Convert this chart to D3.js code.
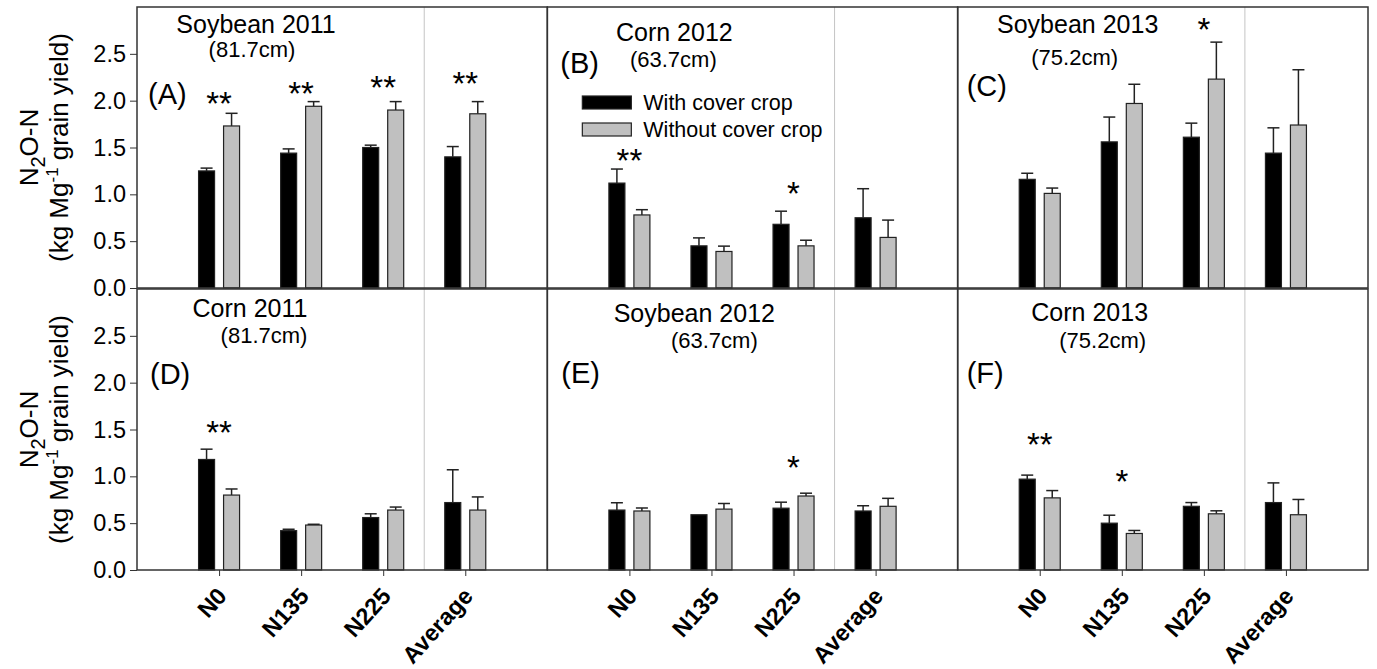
<!DOCTYPE html>
<html>
<head>
<meta charset="utf-8">
<script src="https://cdn.jsdelivr.net/npm/d3@7"></script>
<style>
  body { margin: 0; background: #fff; }
  text { font-family: "Liberation Sans", Arial, sans-serif; fill: #000; }
</style>
</head>
<body>
<div id="chart"></div>
<script>
// Data
var categories = ["N0", "N135", "N225", "Average"];
var panelLetters = ["(A)", "(B)", "(C)", "(D)", "(E)", "(F)"];
var panelTitles = ["Soybean 2011", "Corn 2012", "Soybean 2013", "Corn 2011", "Soybean 2012", "Corn 2013"];
var panelRain = ["(81.7cm)", "(63.7cm)", "(75.2cm)", "(81.7cm)", "(63.7cm)", "(75.2cm)"];
var seriesNames = ["With cover crop", "Without cover crop"];
var yTicks = [0, 0.5, 1.0, 1.5, 2.0, 2.5];

var withCover = [
  [1.25, 1.44, 1.50, 1.40],
  [1.12, 0.45, 0.68, 0.75],
  [1.16, 1.56, 1.61, 1.44],
  [1.18, 0.42, 0.56, 0.72],
  [0.64, 0.59, 0.66, 0.63],
  [0.97, 0.50, 0.68, 0.72]
];
var withCoverErr = [
  [0.03, 0.045, 0.025, 0.11],
  [0.15, 0.085, 0.14, 0.31],
  [0.065, 0.265, 0.15, 0.27],
  [0.11, 0.015, 0.04, 0.35],
  [0.078, 0, 0.064, 0.056],
  [0.043, 0.085, 0.04, 0.21]
];
var withoutCover = [
  [1.73, 1.94, 1.90, 1.86],
  [0.78, 0.39, 0.45, 0.54],
  [1.01, 1.97, 2.23, 1.74],
  [0.80, 0.48, 0.64, 0.64],
  [0.63, 0.65, 0.79, 0.68],
  [0.77, 0.39, 0.60, 0.59]
];
var withoutCoverErr = [
  [0.135, 0.05, 0.09, 0.13],
  [0.056, 0.057, 0.06, 0.185],
  [0.057, 0.205, 0.395, 0.59],
  [0.065, 0.008, 0.032, 0.14],
  [0.032, 0.06, 0.03, 0.085],
  [0.078, 0.032, 0.032, 0.163]
];
// significance marks: [panel, category, marks, height of mark centre]
var stars = [
  [0, "N0", "**", 2.05], [0, "N135", "**", 2.16], [0, "N225", "**", 2.22], [0, "Average", "**", 2.26],
  [1, "N0", "**", 1.44], [1, "N225", "*", 1.09],
  [2, "N225", "*", 2.84],
  [3, "N0", "**", 1.55],
  [4, "N225", "*", 1.17],
  [5, "N0", "**", 1.42], [5, "N135", "*", 1.03]
];

// Layout
var svgWidth = 1377;
var svgHeight = 669;
var plotLeft = 137;
var plotRight = 1368;
var rowTop = [7, 289];
var rowHeight = 281;
var panelWidth = (plotRight - plotLeft) / 3;
var barWidth = 16;
var barOffset = 12.5;

// title / label offsets relative to each panel's top-left corner
var titlePos = [[119, 26], [127, 34], [120, 26], [113, 28], [147, 33], [132, 32]];
var rainPos = [[115, 50], [126, 60], [117, 58], [127, 54], [167, 59], [145, 59]];
var letterPos = [[11, 97], [13, 66], [9, 89], [13, 95], [14, 94], [9, 94]];

var svg = d3.select("#chart")
  .append("svg")
  .attr("width", svgWidth)
  .attr("height", svgHeight);

var yScales = rowTop.map(function (t) {
  return d3.scaleLinear().domain([0, 3]).range([t + rowHeight, t]);
});

panelTitles.forEach(function (title, p) {
  var col = p % 3;
  var row = Math.floor(p / 3);
  var x0 = plotLeft + col * panelWidth;
  var y0 = rowTop[row];
  var y = yScales[row];

  var x = d3.scalePoint()
    .domain(categories)
    .range([x0, x0 + panelWidth])
    .padding(1);

  var g = svg.append("g");

  // separator before the average
  var sepX = (x("N225") + x("Average")) / 2;
  g.append("line")
    .attr("x1", sepX).attr("x2", sepX)
    .attr("y1", y0).attr("y2", y0 + rowHeight)
    .attr("stroke", "#c4c4c4")
    .attr("stroke-width", 1);

  // bars
  var rows = categories.map(function (c, i) {
    return { cat: c, a: withCover[p][i], ae: withCoverErr[p][i], b: withoutCover[p][i], be: withoutCoverErr[p][i] };
  });

  [["a", "ae", -barOffset, "#000000"], ["b", "be", barOffset, "#c0c0c0"]].forEach(function (s) {
    var key = s[0], errKey = s[1], off = s[2], fill = s[3];
    g.selectAll(null)
      .data(rows)
      .enter()
      .append("line")
      .attr("x1", d => x(d.cat) + off)
      .attr("x2", d => x(d.cat) + off)
      .attr("y1", d => y(d[key]))
      .attr("y2", d => y(d[key] + d[errKey]))
      .attr("stroke", "#222")
      .attr("stroke-width", 1.5);
    g.selectAll(null)
      .data(rows.filter(d => d[errKey] > 0))
      .enter()
      .append("line")
      .attr("x1", d => x(d.cat) + off - 6)
      .attr("x2", d => x(d.cat) + off + 6)
      .attr("y1", d => y(d[key] + d[errKey]))
      .attr("y2", d => y(d[key] + d[errKey]))
      .attr("stroke", "#222")
      .attr("stroke-width", 1.5);
    g.selectAll(null)
      .data(rows)
      .enter()
      .append("rect")
      .attr("x", d => x(d.cat) + off - barWidth / 2)
      .attr("y", d => y(d[key]))
      .attr("width", barWidth)
      .attr("height", d => y(0) - y(d[key]))
      .attr("fill", fill)
      .attr("stroke", "#222")
      .attr("stroke-width", 1.2);
  });

  // significance stars
  g.selectAll(null)
    .data(stars.filter(s => s[0] === p))
    .enter()
    .append("text")
    .attr("x", d => x(d[1]))
    .attr("y", d => y(d[3]) + 19)
    .attr("text-anchor", "middle")
    .style("font-size", "33px")
    .text(d => d[2]);

  // panel frame
  g.append("rect")
    .attr("x", x0).attr("y", y0)
    .attr("width", panelWidth).attr("height", rowHeight)
    .attr("fill", "none")
    .attr("stroke", "#333")
    .attr("stroke-width", 1.5);

  // titles
  g.append("text")
    .attr("x", x0 + titlePos[p][0]).attr("y", y0 + titlePos[p][1])
    .attr("text-anchor", "middle")
    .style("font-size", "25px")
    .text(title);
  g.append("text")
    .attr("x", x0 + rainPos[p][0]).attr("y", y0 + rainPos[p][1])
    .attr("text-anchor", "middle")
    .style("font-size", "22px")
    .text(panelRain[p]);
  g.append("text")
    .attr("x", x0 + letterPos[p][0]).attr("y", y0 + letterPos[p][1])
    .style("font-size", "29px")
    .text(panelLetters[p]);

  // x axis only on the bottom row
  if (row === 1) {
    var xAxis = g.append("g")
      .attr("transform", `translate(0, ${y0 + rowHeight})`)
      .call(d3.axisBottom(x).tickSize(6).tickFormat(""));
    xAxis.select(".domain").remove();
    xAxis.selectAll("line").attr("stroke", "#333");

    g.selectAll(null)
      .data(categories)
      .enter()
      .append("text")
      .attr("transform", d => `translate(${x(d) + 9}, ${y0 + rowHeight + 27}) rotate(-48)`)
      .attr("text-anchor", "end")
      .style("font-size", "23.5px")
      .style("font-weight", "bold")
      .text(d => d);
  }

  // legend in panel B
  if (p === 1) {
    seriesNames.forEach(function (name, i) {
      var ly = y0 + 89 + i * 27;
      g.append("rect")
        .attr("x", x0 + 35).attr("y", ly)
        .attr("width", 49).attr("height", 13)
        .attr("fill", i === 0 ? "#000" : "#c0c0c0")
        .attr("stroke", "#222")
        .attr("stroke-width", 1.2);
      g.append("text")
        .attr("x", x0 + 96).attr("y", ly + 14)
        .style("font-size", "21.5px")
        .text(name);
    });
  }
});

// y axes
yScales.forEach(function (y, row) {
  var axis = svg.append("g")
    .attr("transform", `translate(${plotLeft}, 0)`)
    .call(d3.axisLeft(y).tickValues(yTicks).tickFormat(d3.format(".1f")).tickSize(7).tickPadding(4));
  axis.select(".domain").remove();
  axis.selectAll("line").attr("stroke", "#333");
  axis.selectAll("text").style("font-size", "23.5px").style("font-family", "'Liberation Sans', Arial, sans-serif");

  var cy = rowTop[row] + rowHeight / 2;
  var l1 = svg.append("text")
    .attr("transform", `translate(38, ${cy}) rotate(-90)`)
    .attr("text-anchor", "middle")
    .style("font-size", "26px");
  l1.append("tspan").text("N");
  l1.append("tspan").attr("dy", 7).style("font-size", "20px").text("2");
  l1.append("tspan").attr("dy", -7).text("O-N");

  var l2 = svg.append("text")
    .attr("transform", `translate(68, ${cy}) rotate(-90)`)
    .attr("text-anchor", "middle")
    .style("font-size", "26px");
  l2.append("tspan").text("(kg Mg");
  l2.append("tspan").attr("dy", -10).style("font-size", "17px").text("-1");
  l2.append("tspan").attr("dy", 10).text(" grain yield)");
});
</script>
</body>
</html>
